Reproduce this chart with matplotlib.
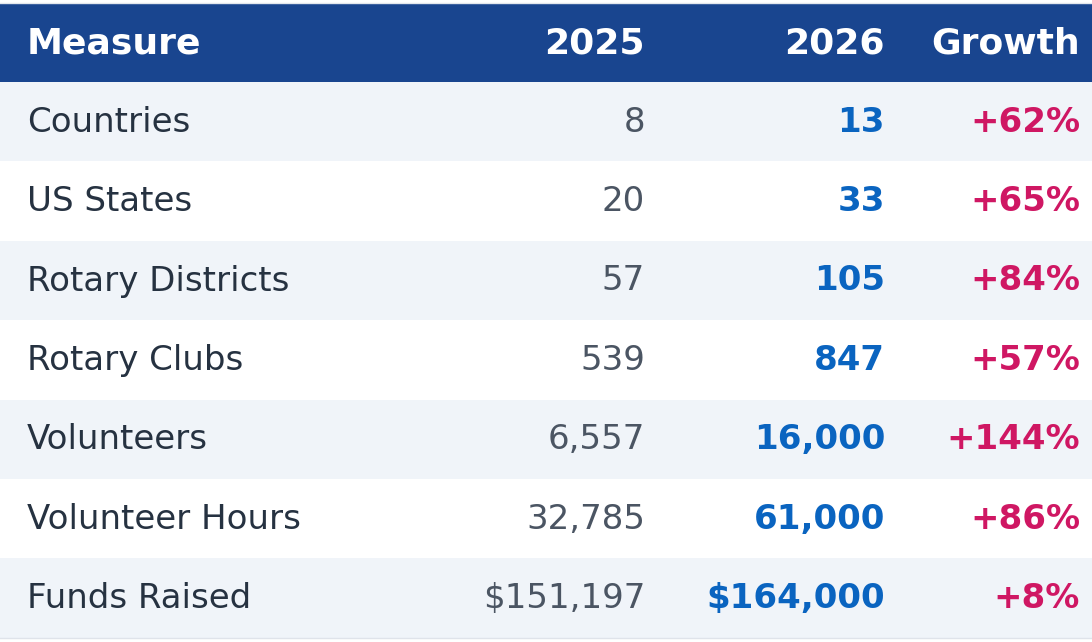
import matplotlib.pyplot as plt

measures = ['Countries', 'US States', 'Rotary Districts', 'Rotary Clubs',
            'Volunteers', 'Volunteer Hours', 'Funds Raised']
values_2025 = ['8', '20', '57', '539', '6,557', '32,785', '$151,197']
values_2026 = ['13', '33', '105', '847', '16,000', '61,000', '$164,000']
growth = ['+62%', '+65%', '+84%', '+57%', '+144%', '+86%', '+8%']
headers = ['Measure', '2025', '2026', 'Growth']

W, H = 1092, 642
fig = plt.figure(figsize=(W / 100, H / 100), dpi=100)
ax = fig.add_axes([0, 0, 1, 1])
ax.set_xlim(0, W)
ax.set_ylim(H, 0)
ax.axis('off')

top = 4
head_h = 78
row_h = 79.4
dy = -3  # nudge text up a little
x_measure, x_2025, x_2026, x_growth = 27, 645, 885, 1080

# header band
ax.axhline(3, color='#e3e7ed', lw=1)
ax.barh(top + head_h / 2, W, height=head_h, left=0, color='#19458f')
for txt, x, ha in zip(headers, [x_measure, x_2025, x_2026, x_growth],
                      ['left', 'right', 'right', 'right']):
    ax.text(x, top + head_h / 2 + dy, txt, ha=ha, va='center_baseline',
            color='white', fontsize=26, fontweight='bold')

# body rows
for i, name in enumerate(measures):
    yc = top + head_h + row_h * (i + 0.5)
    bg = '#f0f4f9' if i % 2 == 0 else 'white'
    ax.barh(yc, W, height=row_h, left=0, color=bg)
    ty = yc + dy
    ax.text(x_measure, ty, name, ha='left', va='center_baseline',
            color='#263241', fontsize=24.5)
    ax.text(x_2025, ty, values_2025[i], ha='right', va='center_baseline',
            color='#4b5563', fontsize=24.5)
    ax.text(x_2026, ty, values_2026[i], ha='right', va='center_baseline',
            color='#0a64c0', fontsize=24.5, fontweight='bold')
    ax.text(x_growth, ty, growth[i], ha='right', va='center_baseline',
            color='#cf1763', fontsize=24.5, fontweight='bold')

ax.axhline(top + head_h + row_h * len(measures), color='#dfe3ea', lw=1)

fig.savefig('out.png', dpi=100)
